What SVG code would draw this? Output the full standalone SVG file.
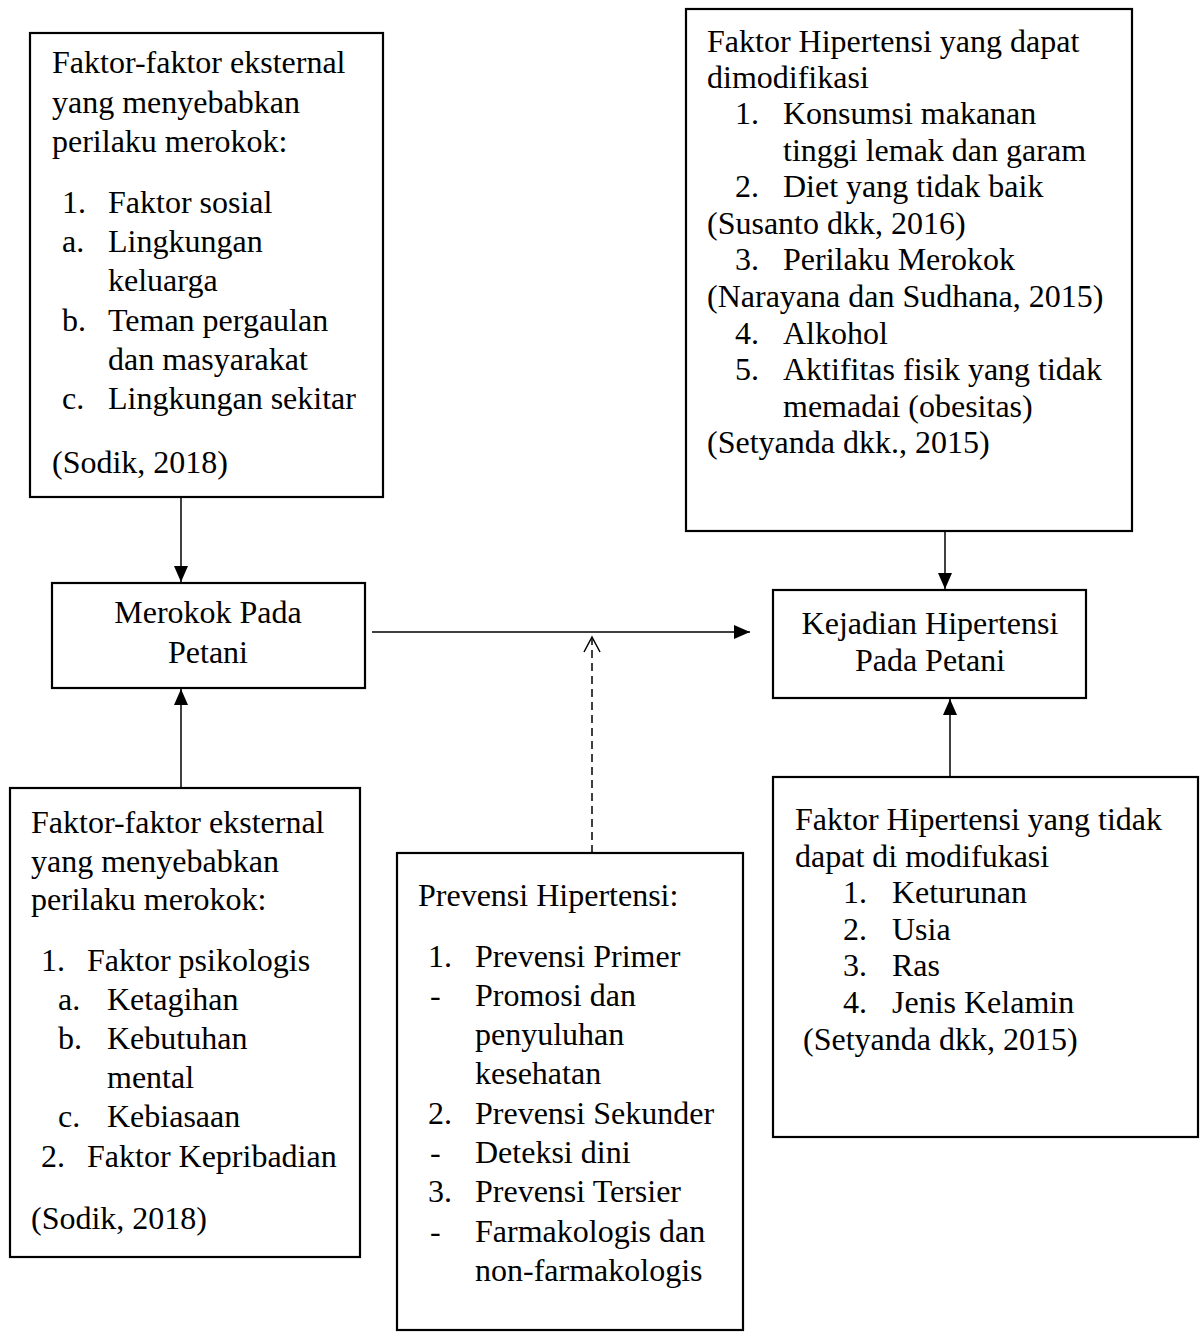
<svg xmlns="http://www.w3.org/2000/svg" width="1200" height="1338" viewBox="0 0 1200 1338">
<style>
.box{fill:none;stroke:#000;stroke-width:2.2}
.t{font-family:"Liberation Serif","Times New Roman",serif;font-size:32px;fill:#000}
.c{text-anchor:middle}
.ln{stroke:#000;stroke-width:1.5;fill:none}
.dash{stroke:#000;stroke-width:1.5;fill:none;stroke-dasharray:8 5}
</style>
<defs>
<marker id="ah" markerUnits="userSpaceOnUse" markerWidth="17" markerHeight="17" viewBox="0 0 17 17" refX="16" refY="8.5" orient="auto">
<path d="M0,1.5 L16,8.5 L0,15.5 Z" fill="#000"/>
</marker>
</defs>
<rect width="1200" height="1338" fill="#fff"/>

<g id="faktor-eksternal-sosial">
<rect class="box" x="30" y="33" width="353" height="464"/>
<text class="t" x="52" y="73">Faktor-faktor eksternal</text>
<text class="t" x="52" y="113">yang menyebabkan</text>
<text class="t" x="52" y="152">perilaku merokok:</text>
<text class="t" x="62" y="213">1.</text><text class="t" x="108" y="213">Faktor sosial</text>
<text class="t" x="62" y="252">a.</text><text class="t" x="108" y="252">Lingkungan</text>
<text class="t" x="108" y="291">keluarga</text>
<text class="t" x="62" y="331">b.</text><text class="t" x="108" y="331">Teman pergaulan</text>
<text class="t" x="108" y="370">dan masyarakat</text>
<text class="t" x="62" y="409">c.</text><text class="t" x="108" y="409">Lingkungan sekitar</text>
<text class="t" x="52" y="473">(Sodik, 2018)</text>
</g>

<g id="faktor-dapat-dimodifikasi">
<rect class="box" x="686" y="9" width="446" height="522"/>
<text class="t" x="707" y="52">Faktor Hipertensi yang dapat</text>
<text class="t" x="707" y="88">dimodifikasi</text>
<text class="t" x="735" y="124">1.</text><text class="t" x="783" y="124">Konsumsi makanan</text>
<text class="t" x="783" y="161">tinggi lemak dan garam</text>
<text class="t" x="735" y="197">2.</text><text class="t" x="783" y="197">Diet yang tidak baik</text>
<text class="t" x="707" y="234">(Susanto dkk, 2016)</text>
<text class="t" x="735" y="270">3.</text><text class="t" x="783" y="270">Perilaku Merokok</text>
<text class="t" x="707" y="307">(Narayana dan Sudhana, 2015)</text>
<text class="t" x="735" y="344">4.</text><text class="t" x="783" y="344">Alkohol</text>
<text class="t" x="735" y="380">5.</text><text class="t" x="783" y="380">Aktifitas fisik yang tidak</text>
<text class="t" x="783" y="417">memadai (obesitas)</text>
<text class="t" x="707" y="453">(Setyanda dkk., 2015)</text>
</g>

<g id="merokok-pada-petani">
<rect class="box" x="52" y="583" width="313" height="105"/>
<text class="t c" x="208" y="623">Merokok Pada</text>
<text class="t c" x="208" y="663">Petani</text>
</g>

<g id="kejadian-hipertensi">
<rect class="box" x="773" y="590" width="313" height="108"/>
<text class="t c" x="930" y="634">Kejadian Hipertensi</text>
<text class="t c" x="930" y="671">Pada Petani</text>
</g>

<g id="faktor-eksternal-psikologis">
<rect class="box" x="10" y="788" width="350" height="469"/>
<text class="t" x="31" y="833">Faktor-faktor eksternal</text>
<text class="t" x="31" y="872">yang menyebabkan</text>
<text class="t" x="31" y="910">perilaku merokok:</text>
<text class="t" x="41" y="971">1.</text><text class="t" x="87" y="971">Faktor psikologis</text>
<text class="t" x="58" y="1010">a.</text><text class="t" x="107" y="1010">Ketagihan</text>
<text class="t" x="58" y="1049">b.</text><text class="t" x="107" y="1049">Kebutuhan</text>
<text class="t" x="107" y="1088">mental</text>
<text class="t" x="58" y="1127">c.</text><text class="t" x="107" y="1127">Kebiasaan</text>
<text class="t" x="41" y="1167">2.</text><text class="t" x="87" y="1167">Faktor Kepribadian</text>
<text class="t" x="31" y="1229">(Sodik, 2018)</text>
</g>

<g id="prevensi-hipertensi">
<rect class="box" x="397" y="853" width="346" height="477"/>
<text class="t" x="418" y="906">Prevensi Hipertensi:</text>
<text class="t" x="428" y="967">1.</text><text class="t" x="475" y="967">Prevensi Primer</text>
<text class="t" x="430" y="1006">-</text><text class="t" x="475" y="1006">Promosi dan</text>
<text class="t" x="475" y="1045">penyuluhan</text>
<text class="t" x="475" y="1084">kesehatan</text>
<text class="t" x="428" y="1124">2.</text><text class="t" x="475" y="1124">Prevensi Sekunder</text>
<text class="t" x="430" y="1163">-</text><text class="t" x="475" y="1163">Deteksi dini</text>
<text class="t" x="428" y="1202">3.</text><text class="t" x="475" y="1202">Prevensi Tersier</text>
<text class="t" x="430" y="1242">-</text><text class="t" x="475" y="1242">Farmakologis dan</text>
<text class="t" x="475" y="1281">non-farmakologis</text>
</g>

<g id="faktor-tidak-dapat-dimodifikasi">
<rect class="box" x="773" y="777" width="425" height="360"/>
<text class="t" x="795" y="830">Faktor Hipertensi yang tidak</text>
<text class="t" x="795" y="867">dapat di modifukasi</text>
<text class="t" x="843" y="903">1.</text><text class="t" x="892" y="903">Keturunan</text>
<text class="t" x="843" y="940">2.</text><text class="t" x="892" y="940">Usia</text>
<text class="t" x="843" y="976">3.</text><text class="t" x="892" y="976">Ras</text>
<text class="t" x="843" y="1013">4.</text><text class="t" x="892" y="1013">Jenis Kelamin</text>
<text class="t" x="803" y="1050">(Setyanda dkk, 2015)</text>
</g>

<g id="connectors">
<line class="ln" x1="181" y1="497" x2="181" y2="582" marker-end="url(#ah)"/>
<line class="ln" x1="181" y1="788" x2="181" y2="689" marker-end="url(#ah)"/>
<line class="ln" x1="372" y1="632" x2="750" y2="632" marker-end="url(#ah)"/>
<line class="ln" x1="945" y1="531" x2="945" y2="589" marker-end="url(#ah)"/>
<line class="ln" x1="950" y1="777" x2="950" y2="699" marker-end="url(#ah)"/>
<line class="dash" x1="592" y1="853" x2="592" y2="639"/>
<path class="ln" d="M584,652 L592,637 L600,652"/>
</g>
</svg>
